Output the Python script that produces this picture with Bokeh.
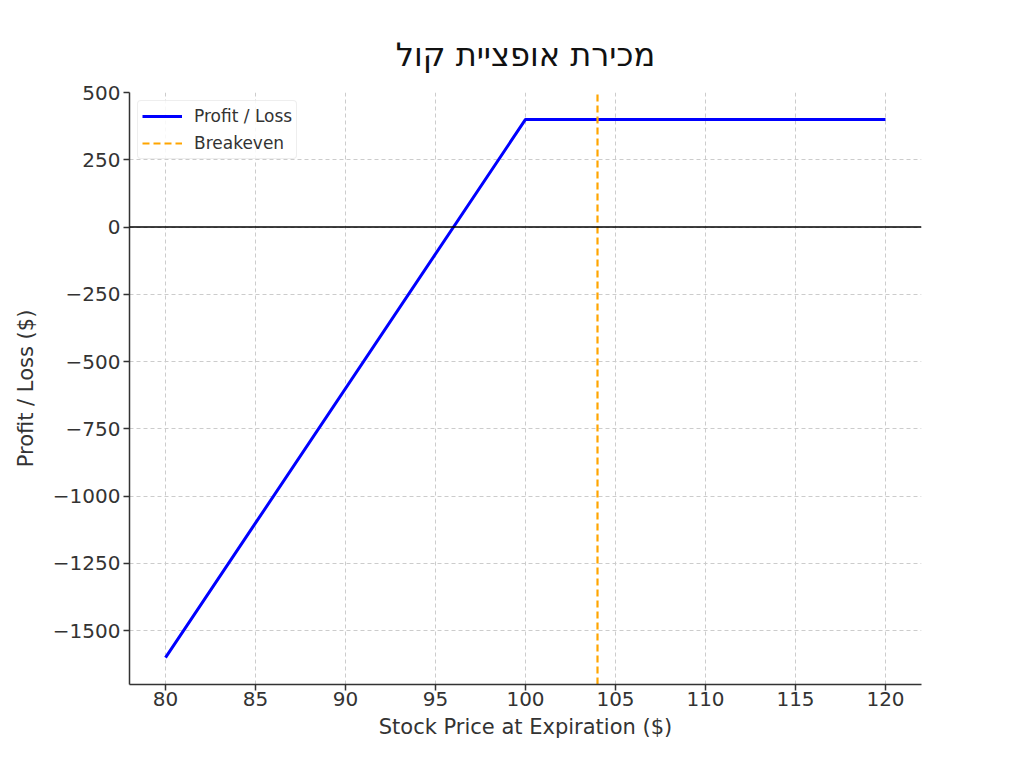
from bokeh.plotting import figure
from bokeh.models import Span, Range1d, FixedTicker, Legend, LegendItem
from bokeh.embed import file_html
from bokeh.resources import INLINE

# Data
prices = [80, 100, 120]
profit = [-1600, 400, 400]
breakeven = 104
x_ticks = [80, 85, 90, 95, 100, 105, 110, 115, 120]
y_ticks = [500, 250, 0, -250, -500, -750, -1000, -1250, -1500]
title = "מכירת אופציית קול"
x_label = "Stock Price at Expiration ($)"
y_label = "Profit / Loss ($)"

FONT = "DejaVu Sans"
x_lo, x_hi = 78, 122
y_lo, y_hi = -1700, 500

p = figure(width=1008, height=752, output_backend="svg", toolbar_location=None,
           x_range=Range1d(x_lo, x_hi), y_range=Range1d(y_lo, y_hi),
           min_border_left=129, min_border_right=87, min_border_top=92, min_border_bottom=68)
p.outline_line_color = None
p.background_fill_color = "white"

p.title.text = title
p.title.align = "center"
p.title.text_font = FONT
p.title.text_font_size = "32px"
p.title.text_font_style = "normal"
p.title.text_color = "#111111"
p.title.offset = 0
p.title.standoff = 38

for ax in (p.xaxis[0], p.yaxis[0]):
    ax.major_label_text_font = FONT
    ax.major_label_text_font_size = "20px"
    ax.major_label_text_color = "#333333"
    ax.axis_label_text_font = FONT
    ax.axis_label_text_font_size = "21px"
    ax.axis_label_text_font_style = "normal"
    ax.axis_label_text_color = "#333333"
    ax.axis_line_color = "#333333"
    ax.axis_line_width = 1.5
    ax.major_tick_line_color = "#333333"
    ax.major_tick_line_width = 1.5
    ax.major_tick_out = 6
    ax.major_tick_in = 0
    ax.minor_tick_line_color = None

p.xaxis.major_label_standoff = 1
p.yaxis.major_label_standoff = 3

p.xaxis.ticker = FixedTicker(ticks=x_ticks)
p.yaxis.ticker = FixedTicker(ticks=y_ticks)
p.yaxis.major_label_overrides = {v: str(v).replace("-", "\u2212") for v in y_ticks}
p.xaxis.axis_label = x_label
p.yaxis.axis_label = y_label
p.xaxis.axis_label_standoff = 6
p.yaxis.axis_label_standoff = 12

p.xgrid.ticker = FixedTicker(ticks=x_ticks)
p.ygrid.ticker = FixedTicker(ticks=y_ticks)
for g in (p.xgrid[0], p.ygrid[0]):
    g.grid_line_color = "#cccccc"
    g.grid_line_dash = "4 3"
    g.grid_line_width = 1

zero = Span(location=0, dimension="width", line_color="black", line_width=1.5)
p.add_layout(zero)

r1 = p.line(prices, profit, line_color="#0000ff", line_width=3)
r2 = p.line([breakeven, breakeven], [y_lo, y_hi], line_color="#ffa500", line_width=2.2,
            line_dash="7 4")

legend = Legend(items=[LegendItem(label="Profit / Loss", renderers=[r1]),
                       LegendItem(label="Breakeven", renderers=[r2])],
                location="top_left")
legend.label_text_font = FONT
legend.label_text_font_size = "17px"
legend.label_text_color = "#333333"
legend.border_line_color = "#dddddd"
legend.border_line_width = 1
legend.background_fill_alpha = 0.85
legend.margin = 8
legend.padding = 4
legend.spacing = 5
legend.glyph_width = 40
legend.glyph_height = 22
legend.label_height = 22
legend.label_standoff = 12
legend.border_radius = 4
p.add_layout(legend)

open("out.html", "w").write(file_html(p, INLINE))
